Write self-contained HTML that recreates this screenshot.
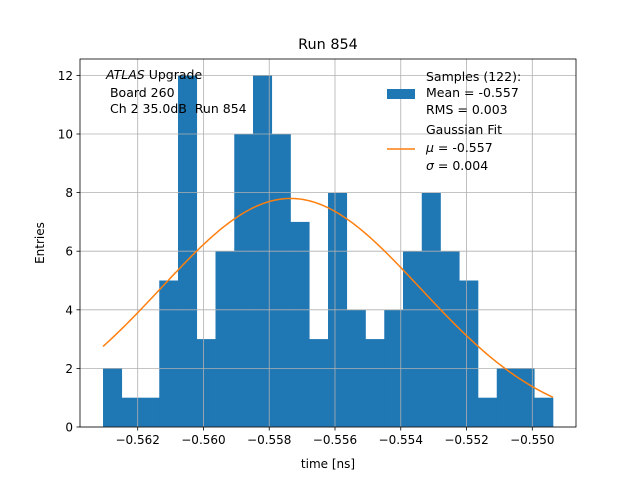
<!DOCTYPE html>
<html><head><meta charset="utf-8"><style>
body{margin:0;background:#fff}
svg{font-family:"DejaVu Sans","Liberation Sans",sans-serif}
</style></head><body>
<svg id="chart" width="640" height="480">
<rect width="640" height="480" fill="#fff"/>
<g id="bars"></g><g id="grid"></g><g id="curve"></g><g id="axes"></g>
<text x="328" y="49" font-size="14.4" text-anchor="middle">Run 854</text>
<text x="328" y="468" font-size="12" text-anchor="middle">time [ns]</text>
<text x="44" y="243" font-size="12" text-anchor="middle" transform="rotate(-90 44 243)">Entries</text>
<g font-size="12.5">
<text x="106" y="79"><tspan font-style="italic">ATLAS</tspan> Upgrade</text>
<text x="106" y="97">&#160;Board 260</text>
<text x="106" y="113">&#160;Ch 2 35.0dB&#160;&#160;Run 854</text>
</g>
<g font-size="12.5">
<rect x="387" y="89" width="28" height="10" fill="#1f77b4"/>
<text x="426" y="81">Samples (122):</text>
<text x="426" y="97">Mean = -0.557</text>
<text x="426" y="114">RMS = 0.003</text>
<line x1="387" y1="149" x2="415" y2="149" stroke="#ff7f0e" stroke-width="1.5"/>
<text x="426" y="134">Gaussian Fit</text>
<text x="426" y="152"><tspan font-style="italic">μ</tspan> = -0.557</text>
<text x="426" y="170"><tspan font-style="italic">σ</tspan> = 0.004</text>
</g>
</svg>
<script>
const counts=[2,1,1,5,12,3,6,10,12,10,7,3,8,4,3,4,6,8,6,5,1,2,2,1];
const binStart=-0.563055, binEnd=-0.54937;
const xTicks=[-0.562,-0.560,-0.558,-0.556,-0.554,-0.552,-0.550];
const yTicks=[0,2,4,6,8,10,12];
const fitMu=-0.55735, fitSigma=0.00395, fitAmp=7.8;
const L=80,R=576,T=59,B=427;
const xs=v=>137.7+(v+0.562)*32883;
const ys=v=>B-v*29.3;
const NS='http://www.w3.org/2000/svg';
function mk(t,a,p){const e=document.createElementNS(NS,t);for(const k in a)e.setAttribute(k,a[k]);p.appendChild(e);return e;}
const grid=document.getElementById('grid'),bars=document.getElementById('bars'),axes=document.getElementById('axes'),curve=document.getElementById('curve');
xTicks.forEach(t=>{const x=xs(t);
 const g=mk('line',{x1:x,x2:x,y1:T,y2:B,stroke:'#b0b0b0','stroke-width':0.8},grid);
 
 
 mk('line',{x1:x,x2:x,y1:B,y2:B+3.5,stroke:'#000','stroke-width':0.8},axes);
 const tx=mk('text',{x:x,y:B+17,'font-size':12,'text-anchor':'middle'},axes);tx.textContent=t.toFixed(3).replace('-','−');
 
 
});
yTicks.forEach(t=>{const y=ys(t);
 const g=mk('line',{x1:L,x2:R,y1:y,y2:y,stroke:'#b0b0b0','stroke-width':0.8},grid);
 
 
 mk('line',{x1:L-3.5,x2:L,y1:y,y2:y,stroke:'#000','stroke-width':0.8},axes);
 const tx=mk('text',{x:L-7,y:y+4.5,'font-size':12,'text-anchor':'end'},axes);tx.textContent=t;
 
 
});
const w=(binEnd-binStart)/counts.length;
counts.forEach((c,i)=>{const x0=xs(binStart+i*w),x1=xs(binStart+(i+1)*w);
 const r=mk('rect',{x:x0,y:ys(c),width:x1-x0+0.3,height:B-ys(c),fill:'#1f77b4'},bars);
 
 
});
let d='';for(let i=0;i<=200;i++){const v=binStart+(binEnd-binStart)*i/200;const y=fitAmp*Math.exp(-((v-fitMu)**2)/(2*fitSigma*fitSigma));d+=(i?'L':'M')+xs(v).toFixed(2)+','+ys(y).toFixed(2);}
const p=mk('path',{d:d,fill:'none',stroke:'#ff7f0e','stroke-width':1.5},curve);


const fr=mk('rect',{x:L,y:T,width:R-L,height:B-T,fill:'none',stroke:'#000','stroke-width':0.8},axes);


</script>
</body></html>
